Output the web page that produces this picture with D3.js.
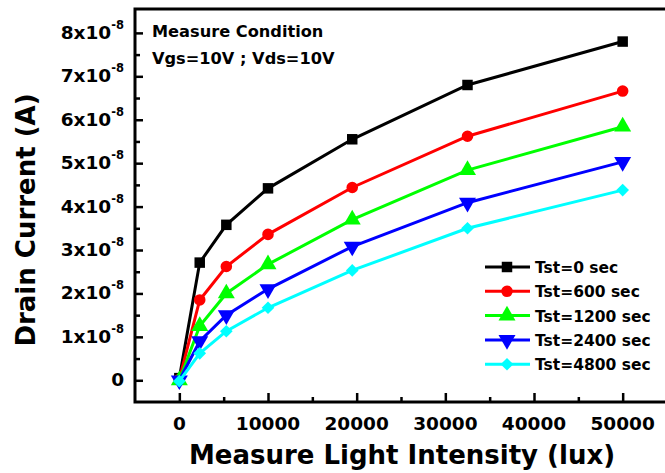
<!DOCTYPE html>
<html><head><meta charset="utf-8">
<script src="https://cdn.jsdelivr.net/npm/d3@7"></script>
<style>html,body{margin:0;padding:0;background:#fff;}svg{display:block;}</style>
</head><body>
<svg id="chart" width="665" height="473"></svg>
<script>
const lightX = [0, 2300, 5300, 10000, 19500, 32500, 50000];
const tst0    = [0.05, 2.71, 3.58, 4.42, 5.55, 6.80, 7.80];
const tst600  = [0.02, 1.85, 2.62, 3.36, 4.44, 5.62, 6.66];
const tst1200 = [0.00, 1.25, 2.00, 2.67, 3.70, 4.84, 5.84];
const tst2400 = [0.00, 0.90, 1.50, 2.10, 3.08, 4.09, 5.03];
const tst4800 = [-0.02, 0.62, 1.13, 1.67, 2.53, 3.50, 4.38];
const seriesNames = ["Tst=0 sec", "Tst=600 sec", "Tst=1200 sec", "Tst=2400 sec", "Tst=4800 sec"];
const seriesColors = ["#000000", "#ff0000", "#00ff00", "#0000ff", "#00ffff"];
const seriesSymbols = ["square", "circle", "up", "down", "diamond"];
const xTicks = [0, 10000, 20000, 30000, 40000, 50000];
const yTicks = [0, 1, 2, 3, 4, 5, 6, 7, 8];
const annotation = ["Measure Condition", "Vgs=10V ; Vds=10V"];
const xTitle = "Measure Light Intensity (lux)";
const yTitle = "Drain Current (A)";

const allSeries = [tst0, tst600, tst1200, tst2400, tst4800];
const svg = d3.select("#chart");
const FONT = "'DejaVu Sans', sans-serif";

const x = d3.scaleLinear().domain([-5000, 55000]).range([135, 667]);
const y = d3.scaleLinear().domain([-0.5, 8.55]).range([402, 9]);

// ticks (inward)
const gx = svg.append("g").attr("transform", `translate(0,${y(-0.5)})`);
gx.call(d3.axisTop(x).tickValues(xTicks).tickSize(9).tickFormat(""));
const gxm = svg.append("g").attr("transform", `translate(0,${y(-0.5)})`);
gxm.call(d3.axisTop(x).tickValues(d3.range(5000, 50000, 10000)).tickSize(5).tickFormat(""));
const gy = svg.append("g").attr("transform", `translate(${x(-5000)},0)`);
gy.call(d3.axisRight(y).tickValues(yTicks).tickSize(8).tickFormat(""));
const gym = svg.append("g").attr("transform", `translate(${x(-5000)},0)`);
gym.call(d3.axisRight(y).tickValues(d3.range(0.5, 8, 1)).tickSize(5).tickFormat(""));
[gx, gxm, gy, gym].forEach(g => {
  g.select(".domain").remove();
  g.selectAll("line").attr("stroke", "#000").attr("stroke-width", 2.5);
});

// frame
svg.append("rect").attr("x", x(-5000)).attr("y", y(8.55))
  .attr("width", x(55000) - x(-5000)).attr("height", y(-0.5) - y(8.55))
  .attr("fill", "none").attr("stroke", "#000").attr("stroke-width", 3);

// x tick labels
svg.append("g").selectAll("text").data(xTicks).join("text")
  .attr("x", d => x(d)).attr("y", 430).attr("text-anchor", "middle")
  .attr("font-family", FONT).attr("font-weight", "bold").attr("font-size", 18.5)
  .text(d => d);

// y tick labels
const yl = svg.append("g").selectAll("text").data(yTicks).join("text")
  .attr("x", 124).attr("y", d => y(d) + 6).attr("text-anchor", "end")
  .attr("font-family", FONT).attr("font-weight", "bold").attr("font-size", 18.5);
yl.each(function(d) {
  const t = d3.select(this);
  if (d === 0) { t.text("0"); return; }
  t.append("tspan").text(d + "x10");
  t.append("tspan").attr("dy", -10).attr("font-size", 11.5).text("-8");
});

// titles
svg.append("text").attr("x", 402).attr("y", 464).attr("text-anchor", "middle")
  .attr("font-family", FONT).attr("font-weight", "bold").attr("font-size", 26).text(xTitle);
svg.append("text").attr("transform", "translate(35,220) rotate(-90)").attr("text-anchor", "middle")
  .attr("font-family", FONT).attr("font-weight", "bold").attr("font-size", 26).text(yTitle);

// annotation
svg.append("g").selectAll("text").data(annotation).join("text")
  .attr("x", 152).attr("y", (d, i) => 37 + i * 26.5)
  .attr("font-family", FONT).attr("font-weight", "bold").attr("font-size", 16.2).text(d => d);

function marker(sym) {
  if (sym === "square") return { d: d3.symbol(d3.symbolSquare, 110)(), r: 0 };
  if (sym === "circle") return { d: d3.symbol(d3.symbolCircle, 105)(), r: 0 };
  if (sym === "up") return { d: d3.symbol(d3.symbolTriangle, 125)(), r: 0 };
  if (sym === "down") return { d: d3.symbol(d3.symbolTriangle, 125)(), r: 180 };
  return { d: d3.symbol(d3.symbolSquare, 80)(), r: 45 };
}

// series
const line = d3.line().x((d, i) => x(lightX[i])).y(d => y(d));
allSeries.forEach((vals, si) => {
  const m = marker(seriesSymbols[si]);
  const g = svg.append("g");
  g.append("path").datum(vals).attr("d", line)
    .attr("fill", "none").attr("stroke", seriesColors[si]).attr("stroke-width", 3);
  g.selectAll("path.m").data(vals).join("path").attr("class", "m")
    .attr("d", m.d)
    .attr("transform", (d, i) => `translate(${x(lightX[i])},${y(d)}) rotate(${m.r})`)
    .attr("fill", seriesColors[si]);
});

// legend
const lg = svg.append("g");
seriesNames.forEach((name, si) => {
  const cy = 267 + si * 24.3;
  const m = marker(seriesSymbols[si]);
  lg.append("line").attr("x1", 485).attr("x2", 530).attr("y1", cy).attr("y2", cy)
    .attr("stroke", seriesColors[si]).attr("stroke-width", 3);
  lg.append("path").attr("d", m.d)
    .attr("transform", `translate(507,${cy}) rotate(${m.r})`)
    .attr("fill", seriesColors[si]);
  lg.append("text").attr("x", 535).attr("y", cy + 6)
    .attr("font-family", FONT).attr("font-weight", "bold").attr("font-size", 15.5).text(name);
});
</script>
</body></html>
